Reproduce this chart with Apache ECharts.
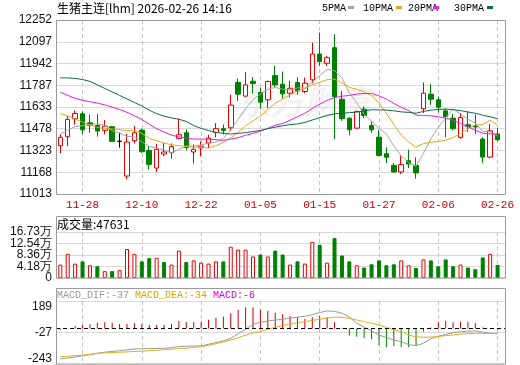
<!DOCTYPE html>
<html><head><meta charset="utf-8">
<script src="https://cdn.jsdelivr.net/npm/echarts@6/dist/echarts.min.js"></script>
<style>html,body{margin:0;padding:0;background:#fff}#c{width:520px;height:365px}</style>
</head><body><div id="c"></div>
<script>
const dates = ['11-25','11-26','11-27','11-28','12-01','12-02','12-03','12-04','12-05','12-08','12-09','12-10','12-11','12-12','12-15','12-16','12-17','12-18','12-19','12-22','12-23','12-24','12-25','12-26','12-29','12-30','12-31','01-05','01-06','01-07','01-08','01-09','01-12','01-13','01-14','01-15','01-16','01-19','01-20','01-21','01-22','01-23','01-26','01-27','01-28','01-29','01-30','02-02','02-03','02-04','02-05','02-06','02-09','02-10','02-11','02-12','02-13','02-24','02-25','02-26'];
const xTickLabels = ['11-28','12-10','12-22','01-05','01-15','01-27','02-06','02-26'];
const priceTicks = [11013, 11168, 11323, 11478, 11633, 11787, 11942, 12097, 12252];
const volTicks = [0, 41800, 83600, 125400, 167300];
const macdTicks = [-243, -27, 189];

const open  = [11357,11421,11549,11584,11520,11501,11466,11492,11388,11141,11392,11468,11324,11198,11298,11307,11409,11449,11312,11342,11376,11451,11478,11485,11807,11710,11816,11736,11684,11856,11795,11731,11807,11743,11826,12010,11944,12055,11688,11553,11482,11617,11501,11418,11300,11217,11170,11250,11217,11620,11724,11684,11605,11553,11416,11506,11500,11404,11276,11440];
const close = [11416,11544,11586,11470,11501,11461,11496,11388,11388,11383,11449,11314,11224,11331,11312,11350,11435,11343,11331,11354,11411,11478,11466,11646,11724,11790,11800,11667,11814,11790,11726,11766,11747,11802,12010,11956,11984,11707,11549,11470,11601,11572,11470,11288,11274,11170,11222,11226,11163,11731,11688,11631,11565,11478,11558,11494,11490,11276,11463,11399];
const low   = [11305,11354,11506,11440,11449,11421,11437,11383,11343,11118,11373,11307,11189,11170,11283,11264,11402,11324,11231,11281,11340,11416,11437,11461,11676,11702,11729,11620,11624,11771,11691,11700,11719,11731,11802,11925,11925,11404,11534,11430,11477,11553,11447,11281,11234,11163,11155,11198,11122,11589,11648,11594,11418,11466,11406,11454,11440,11234,11267,11388];
const high  = [11440,11568,11608,11601,11579,11584,11539,11496,11449,11442,11496,11478,11354,11371,11378,11373,11551,11473,11366,11388,11435,11518,11508,11721,11835,11882,11845,11771,11821,11927,11885,11819,11845,11842,12091,12162,11996,12150,11747,11558,11605,11636,11530,11470,11345,11234,11286,11328,11274,11807,11795,11707,11620,11582,11589,11600,11580,11418,11513,11482];

const ma5  = [11437,11468,11492,11500,11506,11512,11503,11463,11447,11423,11421,11384,11352,11340,11326,11306,11330,11354,11354,11363,11375,11383,11408,11471,11545,11621,11685,11725,11759,11772,11759,11753,11769,11766,11810,11856,11900,11892,11841,11733,11662,11580,11532,11480,11441,11355,11285,11236,11211,11302,11406,11488,11556,11619,11584,11545,11518,11460,11457,11425];
const ma10 = [11584,11570,11548,11525,11505,11488,11480,11476,11472,11463,11467,11444,11408,11394,11375,11364,11357,11353,11347,11345,11341,11357,11381,11413,11454,11498,11534,11567,11615,11659,11690,11719,11747,11763,11791,11808,11827,11831,11804,11772,11759,11740,11712,11661,11587,11509,11433,11384,11346,11372,11381,11387,11396,11415,11443,11476,11503,11508,11538,11505];
const ma20 = [11738,11715,11695,11680,11670,11660,11648,11632,11615,11595,11570,11544,11510,11478,11455,11432,11420,11410,11404,11404,11404,11400,11395,11404,11414,11431,11445,11460,11481,11502,11515,11538,11564,11588,11622,11653,11680,11699,11709,11715,11724,11729,11729,11712,11689,11658,11630,11607,11575,11572,11570,11563,11554,11538,11515,11492,11468,11446,11442,11438];
const ma30 = [11840,11840,11836,11828,11815,11790,11765,11740,11715,11690,11665,11640,11610,11585,11567,11555,11545,11530,11500,11480,11465,11452,11445,11440,11445,11450,11458,11465,11478,11489,11499,11507,11512,11523,11540,11557,11572,11584,11588,11592,11596,11605,11613,11612,11611,11605,11598,11594,11588,11601,11610,11615,11618,11613,11607,11597,11588,11574,11563,11549];

const volume = [48800,87900,52200,60500,46300,42700,24900,24900,28500,105600,87900,60500,72300,73600,58000,48800,99700,58000,64000,55800,52300,60500,60500,113900,103200,103200,78300,85400,78300,99700,85400,48800,60500,52300,131700,121000,55800,144900,81900,60500,46300,38000,49800,64000,46300,49800,64000,46300,36700,67600,64000,42700,67600,42700,48800,38000,32000,74800,87900,47631];
const volUp = [1,1,1,0,1,0,1,0,1,1,1,0,0,1,0,1,1,0,1,1,1,1,0,1,1,1,1,0,1,0,0,1,0,1,1,0,1,0,0,0,1,0,0,0,0,0,1,1,0,1,0,0,0,0,1,0,0,0,1,0];

const dif  = [-208,-202,-195,-186,-178,-170,-162,-157,-152,-146,-140,-138,-137,-136,-135,-131,-124,-121,-120,-119,-108,-96,-84,-67,-35,-5,29,43,52,58,64,71,78,84,95,110,121,118,105,80,36,10,-15,-44,-62,-78,-90,-110,-117,-101,-70,-52,-40,-28,-22,-18,-16,-25,-32,-37];
const dea  = [-193,-190,-186,-182,-178,-169,-167,-164,-162,-160,-157,-155,-151,-148,-145,-142,-138,-134,-130,-124,-115,-104,-92,-78,-62,-45,-30,-21,-5,8,20,31,40,48,56,64,72,78,77,70,59,48,36,25,8,-8,-21,-45,-56,-60,-58,-55,-48,-44,-38,-35,-33,-33,-34,-34];
const macd = [-10,2,20,25,29,40,43,40,32,32,36,29,25,25,25,32,52,45,45,47,61,75,82,105,128,146,146,128,123,109,98,86,77,68,77,86,77,43,5,-49,-56,-67,-73,-112,-128,-119,-128,-128,-112,-21,8,47,52,43,47,47,36,8,-3,-6];

const UP = '#e80000', DOWN = '#008000';
const idx = dates.map((d, i) => i);
const xTickIdx = xTickLabels.map(l => dates.indexOf(l));
const X_MIN = -0.58, X_MAX = 60.07;
const LEFT = 56, WIDTH = 449.5;

function xAxisCfg(gi, showLabel) {
  return {
    type: 'value', gridIndex: gi, min: X_MIN, max: X_MAX,
    axisLine: { show: false },
    axisTick: { show: false, customValues: xTickIdx },
    axisLabel: { show: showLabel, customValues: xTickIdx, formatter: v => dates[Math.round(v)],
      color: '#cc0000', fontSize: 11, fontFamily: 'Liberation Mono', margin: 6, hideOverlap: false },
    splitLine: { show: true, lineStyle: { color: '#c4c4c4', type: [4, 3], width: 1 } }
  };
}
const labelFont = { fontSize: 12, fontFamily: 'Liberation Sans', color: '#111', margin: 4,
  showMinLabel: true, showMaxLabel: true, hideOverlap: false };
const volFmt = v => v === 0 ? '0' : (v / 10000).toFixed(2) + '万';
const volEven = volTicks.filter((v, i) => i % 2 === 0);
const volOdd = volTicks.filter((v, i) => i % 2 === 1);

const graphics = [];
function frame(x, y, w, h) {
  graphics.push({ type: 'rect', silent: true, z: 100, shape: { x: x, y: y, width: w, height: h },
    style: { fill: 'none', stroke: '#9a9a9a', lineWidth: 1 } });
}
function txt(t, x, y, color, font) {
  graphics.push({ type: 'text', silent: true, z: 101, x: x, y: y,
    style: { text: t, fill: color, font: font, verticalAlign: 'middle', textVerticalAlign: 'middle' } });
}
function mark(x, y, color) {
  graphics.push({ type: 'rect', silent: true, z: 101, shape: { x: x, y: y, width: 6, height: 3 }, style: { fill: color } });
}
frame(56.5, 20.5, 449, 174);
frame(56.5, 216.5, 449, 61.5);
frame(56.5, 288.5, 449, 75.5);
graphics.push({ type: 'text', silent: true, z: 0, x: 236, y: 102,
  style: { text: '东方财富', fill: 'rgba(0,0,0,0.05)', font: 'italic bold 34px "Noto Sans CJK SC"', verticalAlign: 'middle', textVerticalAlign: 'middle' } });
txt('生猪主连[lhm] 2026-02-26 14:16', 57, 8, '#000', '12px "Noto Sans CJK SC"');
const legendItems = [['5PMA', '#a6a6a6', 322, 348], ['10PMA', '#e8a81c', 363, 396], ['20PMA', '#e81ce8', 408, 433], ['30PMA', '#0b6e48', 454, 487]];
legendItems.forEach(l => { txt(l[0], l[2], 8, '#000', '10px "Liberation Mono"'); mark(l[3], 6, l[1]); });
txt('成交量:47631', 57, 224, '#000', '12px "Noto Sans CJK SC"');
txt('MACD_DIF:-37', 57, 295, '#9a9a9a', '10px "Liberation Mono"');
txt('MACD_DEA:-34', 135, 295, '#d9a400', '10px "Liberation Mono"');
txt('MACD:-6', 213, 295, '#e000e0', '10px "Liberation Mono"');

const option = {
  animation: false,
  backgroundColor: '#fff',
  graphic: graphics,
  grid: [
    { left: LEFT, top: 20, width: WIDTH, height: 174 },
    { left: LEFT, top: 232, width: WIDTH, height: 46 },
    { left: LEFT, top: 301, width: WIDTH, height: 63 }
  ],
  xAxis: [xAxisCfg(0, true), xAxisCfg(1, false), xAxisCfg(2, false)],
  yAxis: [
    { type: 'value', gridIndex: 0, min: 11013, max: 12252,
      axisLine: { show: false }, axisTick: { show: false, customValues: priceTicks },
      axisLabel: Object.assign({ customValues: priceTicks, formatter: v => String(v) }, labelFont),
      splitLine: { lineStyle: { color: '#dadada' } } },
    { type: 'value', gridIndex: 1, min: 0, max: 167300,
      axisLine: { show: false }, axisTick: { show: false, customValues: volTicks },
      axisLabel: Object.assign({ customValues: volEven, formatter: volFmt }, labelFont),
      splitLine: { lineStyle: { color: '#dadada' } } },
    { type: 'value', gridIndex: 2, min: -243, max: 189,
      axisLine: { show: false }, axisTick: { show: false, customValues: macdTicks },
      axisLabel: Object.assign({ customValues: macdTicks,
        formatter: v => v === macdTicks[2] ? '{t|' + v + '}' : (v === macdTicks[0] ? '{b|' + v + '}' : '{m|' + v + '}'),
        rich: { t: { padding: [11, 0, 0, 0] }, b: { padding: [0, 0, 11, 0] }, m: {} } }, labelFont),
      splitLine: { lineStyle: { color: '#dadada' } } },
    { type: 'value', gridIndex: 1, min: 0, max: 167300, position: 'left',
      axisLine: { show: false }, axisTick: { show: false, customValues: volOdd },
      axisLabel: Object.assign({ customValues: volOdd, formatter: volFmt }, labelFont),
      splitLine: { show: false } }
  ],
  series: [
    { type: 'candlestick', xAxisIndex: 0, yAxisIndex: 0, barWidth: 5, clip: false,
      encode: { x: 0, y: [1, 2, 3, 4] },
      data: idx.map(i => [i, open[i], close[i], low[i], high[i]]),
      itemStyle: { color: '#ffffff', color0: DOWN, borderColor: UP, borderColor0: DOWN, borderColorDoji: '#000', borderWidth: 1 } },
    { type: 'line', xAxisIndex: 0, yAxisIndex: 0, showSymbol: false, data: idx.map(i => [i, ma5[i]]), lineStyle: { color: '#a6a6a6', width: 1 } },
    { type: 'line', xAxisIndex: 0, yAxisIndex: 0, showSymbol: false, data: idx.map(i => [i, ma10[i]]), lineStyle: { color: '#e8a81c', width: 1 } },
    { type: 'line', xAxisIndex: 0, yAxisIndex: 0, showSymbol: false, data: idx.map(i => [i, ma20[i]]), lineStyle: { color: '#e81ce8', width: 1 } },
    { type: 'line', xAxisIndex: 0, yAxisIndex: 0, showSymbol: false, data: idx.map(i => [i, ma30[i]]), lineStyle: { color: '#0b6e48', width: 1 } },
    { type: 'bar', xAxisIndex: 1, yAxisIndex: 1, barWidth: 4,
      data: idx.map(i => ({ value: [i, volume[i]], itemStyle: volUp[i] ? { color: '#ffffff', borderColor: UP, borderWidth: 1 } : { color: DOWN, borderColor: DOWN, borderWidth: 1 } })) },
    { type: 'bar', xAxisIndex: 2, yAxisIndex: 2, barWidth: 1,
      data: idx.map(i => ({ value: [i, macd[i]], itemStyle: { color: macd[i] >= 0 ? '#d00000' : DOWN } })),
      markLine: { silent: true, symbol: 'none', label: { show: false }, lineStyle: { color: '#000', type: [4, 3], width: 1 }, data: [{ yAxis: 0 }] } },
    { type: 'line', xAxisIndex: 2, yAxisIndex: 2, showSymbol: false, data: idx.map(i => [i, dif[i]]), lineStyle: { color: '#9a9a9a', width: 1 } },
    { type: 'line', xAxisIndex: 2, yAxisIndex: 2, showSymbol: false, data: idx.map(i => [i, dea[i]]), lineStyle: { color: '#e0b020', width: 1 } }
  ]
};
const chart = echarts.init(document.getElementById('c'), null, { renderer: 'canvas', width: 520, height: 365 });
chart.setOption(option);
</script>
</body></html>
